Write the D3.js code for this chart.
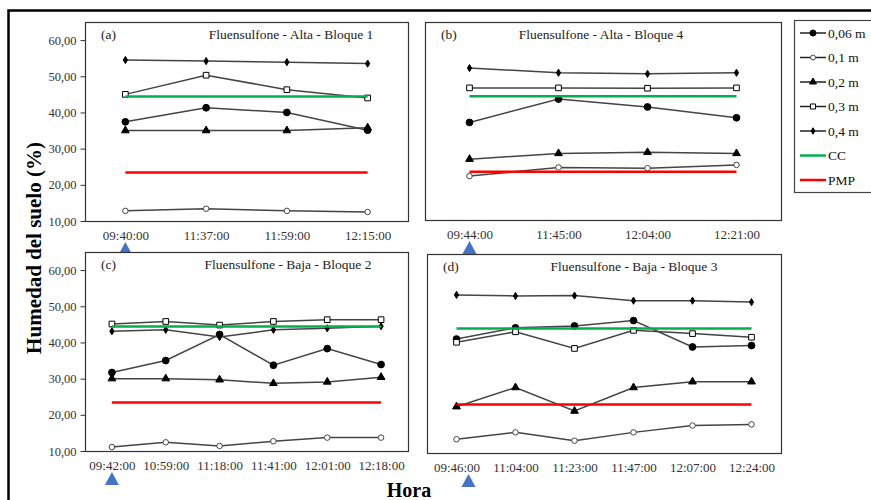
<!DOCTYPE html>
<html>
<head>
<meta charset="utf-8">
<script src="https://cdn.jsdelivr.net/npm/d3@7"></script>
<style>
  body { margin: 0; background: #fff; }
  svg { display: block; font-family: "Liberation Serif", "Times New Roman", serif; }
</style>
</head>
<body>
<div id="chart"></div>
<script>
// soil moisture (%) by depth
const depths = ["0,06 m", "0,1 m", "0,2 m", "0,3 m", "0,4 m"];
const ccValue = 44.4;   // capacidad de campo
const pmpValue = 23.4;  // punto de marchitez permanente

const timesA = ["09:40:00", "11:37:00", "11:59:00", "12:15:00"];
const seriesA = [
  [37.4, 41.3, 40.0, 35.1],
  [12.8, 13.4, 12.8, 12.5],
  [35.0, 35.0, 35.0, 35.8],
  [45.0, 50.3, 46.3, 44.0],
  [54.5, 54.2, 53.9, 53.5]
];

const timesB = ["09:44:00", "11:45:00", "12:04:00", "12:21:00"];
const seriesB = [
  [37.1, 43.6, 41.4, 38.4],
  [22.2, 24.6, 24.4, 25.3],
  [26.9, 28.5, 28.8, 28.5],
  [46.7, 46.7, 46.6, 46.7],
  [52.2, 50.9, 50.6, 50.9]
];

const timesC = ["09:42:00", "10:59:00", "11:18:00", "11:41:00", "12:01:00", "12:18:00"];
const seriesC = [
  [31.7, 35.0, 42.2, 33.7, 38.3, 33.9],
  [11.1, 12.4, 11.4, 12.7, 13.7, 13.7],
  [30.0, 30.0, 29.7, 28.7, 29.1, 30.4],
  [45.1, 45.8, 44.8, 45.8, 46.3, 46.3],
  [43.1, 43.5, 41.5, 43.5, 43.9, 44.5]
];

const timesD = ["09:46:00", "11:04:00", "11:23:00", "11:47:00", "12:07:00", "12:24:00"];
const seriesD = [
  [41.5, 44.6, 45.1, 46.6, 39.3, 39.7],
  [13.8, 15.7, 13.4, 15.7, 17.6, 17.9],
  [22.8, 28.1, 21.6, 28.1, 29.7, 29.7],
  [40.6, 43.5, 38.9, 43.9, 43.0, 42.0],
  [53.7, 53.4, 53.5, 52.1, 52.1, 51.7]
];

const yTicks = [10, 20, 30, 40, 50, 60];

const W = 871, H = 500;
const svg = d3.select("#chart").append("svg")
  .attr("width", W).attr("height", H);

const locale = d3.formatLocale({decimal: ",", thousands: ".", grouping: [3], currency: ["", ""]});
const fmt = locale.format(".2f");

// marker look per depth
const markers = [
  {type: d3.symbolCircle, size: 36, fill: "#000", stroke: "#000"},
  {type: d3.symbolCircle, size: 24, fill: "#fff", stroke: "#444"},
  {type: d3.symbolTriangle, size: 26, fill: "#000", stroke: "#000"},
  {type: d3.symbolSquare, size: 32, fill: "#fff", stroke: "#000"},
  {type: d3.symbolDiamond, size: 15, fill: "#000", stroke: "#000"}
];
const ccColor = "#00b050", pmpColor = "#ff0000";

// outer frame
svg.append("rect")
  .attr("x", 8.5).attr("y", 10.5).attr("width", 900).attr("height", 520)
  .attr("fill", "none").attr("stroke", "#000").attr("stroke-width", 2.5);

const panels = [
  {times: timesA, series: seriesA, box: [85, 22, 408, 221], label: "(a)", title: "Fluensulfone - Alta - Bloque 1", yAxis: true, tx: 291, arrowDx: 0},
  {times: timesB, series: seriesB, box: [425, 22, 781, 220], label: "(b)", title: "Fluensulfone - Alta - Bloque 4", yAxis: false, tx: 601, arrowDx: 0},
  {times: timesC, series: seriesC, box: [85, 252, 408, 451], label: "(c)", title: "Fluensulfone - Baja - Bloque 2", yAxis: true, tx: 288, arrowDx: 0},
  {times: timesD, series: seriesD, box: [427, 254, 781, 453], label: "(d)", title: "Fluensulfone - Baja - Bloque 3", yAxis: false, tx: 634, arrowDx: 12}
];

panels.forEach(p => {
  const [x0, y0, x1, y1] = p.box;
  const x = d3.scalePoint().domain(p.times).range([x0, x1]).padding(0.5);
  const y = d3.scaleLinear().domain([10, 65]).range([y1, y0]);
  const g = svg.append("g");

  g.append("rect")
    .attr("x", x0 + 0.5).attr("y", y0 + 0.5)
    .attr("width", x1 - x0).attr("height", y1 - y0)
    .attr("fill", "#fff").attr("stroke", "#333").attr("stroke-width", 1.2);

  if (p.yAxis) {
    const ya = g.append("g")
      .attr("transform", `translate(${x0 + 0.5},0)`)
      .call(d3.axisLeft(y).tickValues(yTicks).tickFormat(fmt).tickSize(5).tickPadding(4));
    ya.select(".domain").remove();
    ya.selectAll("line").attr("stroke", "#333");
    ya.selectAll("text").attr("font-family", "Liberation Serif").attr("font-size", 12.5).attr("fill", "#333");
  }

  const xa = g.append("g")
    .attr("transform", `translate(0,${y1 + 6})`)
    .call(d3.axisBottom(x).tickSize(0).tickPadding(4));
  xa.select(".domain").remove();
  xa.selectAll("text").attr("font-family", "Liberation Serif").attr("font-size", 13).attr("fill", "#333");

  g.append("text").attr("x", x0 + 16).attr("y", y0 + 17)
    .attr("font-size", 13.5).attr("fill", "#222").text(p.label);
  g.append("text").attr("x", p.tx).attr("y", y0 + 17)
    .attr("text-anchor", "middle").attr("font-size", 13.5).attr("fill", "#222").text(p.title);

  const line = d3.line().x((d, i) => x(p.times[i])).y(d => y(d));

  p.series.forEach((vals, k) => {
    g.append("path").datum(vals)
      .attr("d", line).attr("fill", "none")
      .attr("stroke", "#444").attr("stroke-width", 1.5);
    const m = markers[k];
    g.selectAll(null).data(vals).join("path")
      .attr("transform", (d, i) => `translate(${x(p.times[i])},${y(d)})`)
      .attr("d", d3.symbol(m.type, m.size))
      .attr("fill", m.fill).attr("stroke", m.stroke).attr("stroke-width", 1);
  });

  // CC and PMP reference lines
  [[ccValue, ccColor], [pmpValue, pmpColor]].forEach(([v, c]) => {
    g.append("path")
      .datum(p.times.map(() => v))
      .attr("d", line).attr("fill", "none")
      .attr("stroke", c).attr("stroke-width", 2.5);
  });

  // blue arrow under the first sampling time
  const ax = x(p.times[0]) + p.arrowDx;
  const ay = y1 + 21;
  g.append("path")
    .attr("d", `M${ax},${ay} L${ax - 7},${ay + 13} L${ax + 7},${ay + 13} Z`)
    .attr("fill", "#4472c4");
});

// legend
const leg = svg.append("g");
leg.append("rect")
  .attr("x", 794.5).attr("y", 20.5).attr("width", 100).attr("height", 172)
  .attr("fill", "#fff").attr("stroke", "#444").attr("stroke-width", 1.2);

const legendItems = depths.map((d, k) => ({name: d, marker: markers[k], color: "#222", w: 1.5}))
  .concat([{name: "CC", color: ccColor, w: 2.5}, {name: "PMP", color: pmpColor, w: 2.5}]);

legendItems.forEach((it, i) => {
  const ly = 33 + i * 24.5;
  leg.append("line").attr("x1", 800).attr("x2", 826).attr("y1", ly).attr("y2", ly)
    .attr("stroke", it.color).attr("stroke-width", it.w);
  if (it.marker) {
    leg.append("path")
      .attr("transform", `translate(813,${ly})`)
      .attr("d", d3.symbol(it.marker.type, it.marker.size * 0.8))
      .attr("fill", it.marker.fill).attr("stroke", it.marker.stroke);
  }
  leg.append("text").attr("x", 828).attr("y", ly + 4.5)
    .attr("font-size", 13.5).attr("fill", "#111").text(it.name);
});

// axis titles
svg.append("text")
  .attr("transform", "translate(41,248) rotate(-90)")
  .attr("text-anchor", "middle").attr("font-size", 21).attr("font-weight", "bold")
  .text("Humedad del suelo (%)");

svg.append("text")
  .attr("x", 409).attr("y", 497)
  .attr("text-anchor", "middle").attr("font-size", 20).attr("font-weight", "bold")
  .text("Hora");
</script>
</body>
</html>
